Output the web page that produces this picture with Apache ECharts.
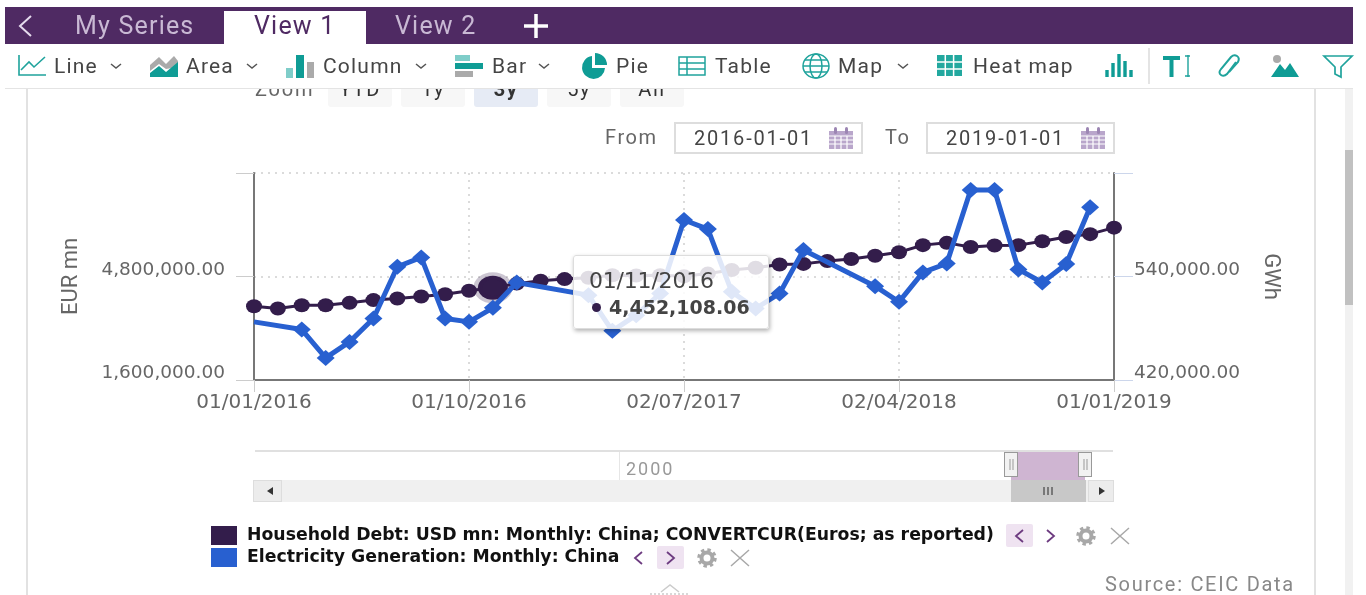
<!DOCTYPE html>
<html>
<head>
<meta charset="utf-8">
<title>My Series - View 1</title>
<script src="https://cdn.jsdelivr.net/npm/echarts@6/dist/echarts.min.js"></script>
<style>
html,body{margin:0;padding:0;width:1366px;height:595px;overflow:hidden;background:#fff;font-family:Roboto,sans-serif;}
#chart{position:absolute;left:0;top:0;width:1366px;height:595px;}
.t{position:absolute;white-space:nowrap;line-height:1;}
.b{position:absolute;box-sizing:border-box;}
svg{position:absolute;overflow:visible;}
.tool{font-size:21px;color:#454545;top:56px;letter-spacing:1.2px;}
.tab{font-size:25px;top:13px;letter-spacing:1.2px;color:#c9b9d4;}
.zbtn{top:72px;height:35px;width:64px;border-radius:3px;background:#f7f7f7;}
.ztxt{top:79px;font-size:20px;color:#333;text-align:center;width:64px;letter-spacing:1.5px;}
.inp{top:122px;height:32px;width:189px;border:2px solid #ddd;}
.lab{font-size:20px;color:#666;top:127px;letter-spacing:1.6px;}
.date{font-size:20px;color:#444;top:128px;letter-spacing:1.8px;}
</style>
</head>
<body>
<div id="chart"></div>

<!-- panel frame and scrollbar -->
<div class="b" style="left:26px;top:88px;width:2px;height:507px;background:#e2e2e2"></div>
<div class="b" style="left:1314px;top:88px;width:2px;height:507px;background:#e2e2e2"></div>
<div class="b" style="left:1345px;top:88px;width:8px;height:507px;background:#f1f1f1"></div>
<div class="b" style="left:1345px;top:150px;width:8px;height:155px;background:#c1c1c1"></div>

<!-- date range row -->
<div class="b zbtn" style="left:328px"></div><div class="b zbtn" style="left:401px"></div>
<div class="b zbtn" style="left:474px;background:#e6ebf5"></div><div class="b zbtn" style="left:547px"></div>
<div class="b zbtn" style="left:620px"></div>
<span class="t" style="left:255px;top:79px;font-size:20px;color:#666;letter-spacing:1.8px">Zoom</span>
<span class="t ztxt" style="left:328px">YTD</span><span class="t ztxt" style="left:401px">1y</span>
<span class="t ztxt" style="left:474px;font-weight:700">3y</span><span class="t ztxt" style="left:547px">5y</span>
<span class="t ztxt" style="left:620px">All</span>

<span class="t lab" style="left:605px">From</span>
<div class="b inp" style="left:674px"></div>
<span class="t date" style="left:694px">2016-01-01</span>
<svg style="left:828px;top:127px" width="26" height="23" viewBox="0 0 26 23"><rect x="1" y="4" width="24" height="18" fill="#b9a6cb"/><path d="M1 9H25M1 13H25M1 17H25M7 9V22M13 9V22M19 9V22" stroke="#fff" stroke-width="1.2"/><rect x="6" y="0" width="3" height="7" rx="1.5" fill="#9c86b3"/><rect x="17" y="0" width="3" height="7" rx="1.5" fill="#9c86b3"/></svg>
<span class="t lab" style="left:885px">To</span>
<div class="b inp" style="left:926px"></div>
<span class="t date" style="left:946px">2019-01-01</span>
<svg style="left:1080px;top:127px" width="26" height="23" viewBox="0 0 26 23"><rect x="1" y="4" width="24" height="18" fill="#b9a6cb"/><path d="M1 9H25M1 13H25M1 17H25M7 9V22M13 9V22M19 9V22" stroke="#fff" stroke-width="1.2"/><rect x="6" y="0" width="3" height="7" rx="1.5" fill="#9c86b3"/><rect x="17" y="0" width="3" height="7" rx="1.5" fill="#9c86b3"/></svg>

<!-- toolbar -->
<div class="b" style="left:5px;top:44px;width:1348px;height:45px;background:#fff;border-bottom:1px solid #e4e4e4"></div>
<div class="b" style="left:5px;top:7px;width:1348px;height:37px;background:#4f2a63"></div>
<div class="b" style="left:224px;top:11px;width:142px;height:33px;background:#fff"></div>
<svg style="left:17px;top:14px" width="16" height="24"><path d="M14 2L3 12L14 22" fill="none" stroke="#e6dcee" stroke-width="2"/></svg>
<span class="t tab" style="left:75px">My Series</span>
<span class="t tab" style="left:254px;color:#4f2a63">View 1</span>
<span class="t tab" style="left:395px">View 2</span>
<svg style="left:522px;top:12px" width="28" height="28"><path d="M14 2V26M2 14H26" stroke="#fff" stroke-width="3.5"/></svg>

<svg style="left:18px;top:55px" width="28" height="22"><path d="M1 0V20H28" fill="none" stroke="#1fa39c" stroke-width="1.6"/><path d="M3 15L11 7L16 12L27 2" fill="none" stroke="#1fa39c" stroke-width="1.6"/></svg>
<span class="t tool" style="left:54px">Line</span>
<svg style="left:150px;top:55px" width="28" height="22"><path d="M0 10L9 2L16 9L24 1L28 6V12L16 14L9 9L0 16Z" fill="#aaa"/><path d="M0 22V18L9 11L16 17L28 7V22Z" fill="#0f9c95"/></svg>
<span class="t tool" style="left:186px">Area</span>
<svg style="left:286px;top:54px" width="28" height="24"><rect x="0" y="14" width="7" height="10" fill="#7fcdc9"/><rect x="10" y="1" width="8" height="23" fill="#0f9c95"/><rect x="21" y="8" width="7" height="16" fill="#aaa"/></svg>
<span class="t tool" style="left:323px">Column</span>
<svg style="left:455px;top:55px" width="28" height="22"><rect x="0" y="0" width="15" height="6" fill="#7fcdc9"/><rect x="0" y="8" width="28" height="6" fill="#0f9c95"/><rect x="0" y="16" width="18" height="6" fill="#aaa"/></svg>
<span class="t tool" style="left:492px">Bar</span>
<svg style="left:579px;top:53px" width="30" height="26"><path d="M13 3A11.5 11.5 0 1 0 26 15H13Z" fill="#0f9c95"/><path d="M16 0A12 12 0 0 1 28 12H16Z" fill="#0f9c95"/></svg>
<span class="t tool" style="left:616px">Pie</span>
<svg style="left:678px;top:56px" width="28" height="20"><rect x="1" y="1" width="26" height="18" fill="none" stroke="#1fa39c" stroke-width="1.5"/><path d="M1 7H27M1 13H27M9 1V19" stroke="#1fa39c" stroke-width="1.5"/></svg>
<span class="t tool" style="left:715px">Table</span>
<svg style="left:802px;top:53px" width="28" height="26"><ellipse cx="14" cy="13" rx="13" ry="12" fill="none" stroke="#1fa39c" stroke-width="1.5"/><ellipse cx="14" cy="13" rx="6" ry="12" fill="none" stroke="#1fa39c" stroke-width="1.5"/><path d="M1 13H27M3 7H25M3 19H25" stroke="#1fa39c" stroke-width="1.3"/></svg>
<span class="t tool" style="left:838px">Map</span>
<svg style="left:937px;top:55px" width="25" height="21"><rect x="0" y="0" width="25" height="21" fill="#22a89f"/><path d="M8.3 0V21M16.6 0V21M0 7H25M0 14H25" stroke="#fff" stroke-width="1.5"/></svg>
<span class="t tool" style="left:973px">Heat map</span>
<svg style="left:1105px;top:53px" width="28" height="24"><path d="M2 24V17M8 24V10M14 24V1M20 24V8M26 24V17" stroke="#0f9c95" stroke-width="3.4"/></svg>
<div class="b" style="left:1148px;top:48px;width:2px;height:36px;background:#e4e4e4"></div>
<svg style="left:1162px;top:55px" width="28" height="22"><path d="M1 3H18M9.5 3V22" stroke="#0f9c95" stroke-width="4"/><path d="M26 0V22M23 1H28M23 21H28" stroke="#1fa39c" stroke-width="1.4"/></svg>
<svg style="left:1218px;top:54px" width="24" height="24"><path d="M18 8L9 20Q6 23 3 21T3 15L13 3Q16 0 19 2T20 8L11 18" fill="none" stroke="#1fa39c" stroke-width="2"/></svg>
<svg style="left:1271px;top:55px" width="28" height="22"><circle cx="6" cy="4" r="4" fill="#aaa"/><path d="M0 22L9 9L14 15L19 8L28 22Z" fill="#0f9c95"/></svg>
<svg style="left:1323px;top:54px" width="30" height="24"><path d="M1 2H29L18 13V23L12 20V13Z" fill="none" stroke="#1fa39c" stroke-width="1.7"/></svg>
<svg style="left:110px;top:63px" width="12" height="7"><path d="M1 1L6 5L11 1" fill="none" stroke="#555" stroke-width="1.5"/></svg>
<svg style="left:246px;top:63px" width="12" height="7"><path d="M1 1L6 5L11 1" fill="none" stroke="#555" stroke-width="1.5"/></svg>
<svg style="left:415px;top:63px" width="12" height="7"><path d="M1 1L6 5L11 1" fill="none" stroke="#555" stroke-width="1.5"/></svg>
<svg style="left:538px;top:63px" width="12" height="7"><path d="M1 1L6 5L11 1" fill="none" stroke="#555" stroke-width="1.5"/></svg>
<svg style="left:897px;top:63px" width="12" height="7"><path d="M1 1L6 5L11 1" fill="none" stroke="#555" stroke-width="1.5"/></svg>

<!-- navigator under the plot -->
<div class="b" style="left:255px;top:450px;width:858px;height:2px;background:#e0e0e0"></div>
<div class="b" style="left:619px;top:452px;width:1px;height:28px;background:#e6e6e6"></div>
<span class="t" style="left:626px;top:460px;font-size:18px;color:#999;letter-spacing:2px">2000</span>
<div class="b" style="left:1011px;top:452px;width:74px;height:28px;background:#cfb5d2"></div>
<div class="b" style="left:1004px;top:452px;width:14px;height:25px;background:#f2f2f2;border:1px solid #999"></div>
<div class="b" style="left:1078px;top:452px;width:14px;height:25px;background:#f2f2f2;border:1px solid #999"></div>
<svg style="left:1004px;top:452px" width="90" height="25"><path d="M6 7V18M9 7V18M80 7V18M83 7V18" stroke="#999"/></svg>
<div class="b" style="left:253px;top:480px;width:861px;height:22px;background:#f0f0f0"></div>
<div class="b" style="left:253px;top:480px;width:29px;height:22px;background:#ececec;border:1px solid #ddd"></div>
<div class="b" style="left:1088px;top:480px;width:26px;height:22px;background:#ececec;border:1px solid #ddd"></div>
<div class="b" style="left:1011px;top:480px;width:75px;height:22px;background:#c8c8c8"></div>
<svg style="left:253px;top:480px" width="861" height="22"><path d="M20 7L14 11L20 15Z M846 7L852 11L846 15Z" fill="#333"/><path d="M791 7V15M795 7V15M799 7V15" stroke="#444" stroke-width="1.2"/></svg>

<!-- legend controls, the legend itself is drawn by the chart -->
<div class="b" style="left:1006px;top:524px;width:27px;height:23px;background:#efe3f1;border-radius:2px"></div>
<div class="b" style="left:657px;top:546px;width:27px;height:23px;background:#efe3f1;border-radius:2px"></div>
<svg style="left:0;top:0" width="1366" height="595">
  <g fill="none" stroke="#6d3b80" stroke-width="1.8">
    <path d="M1023 530L1016 536L1023 542M1047 530L1054 536L1047 542M642 552L635 558L642 564M667 552L674 558L667 564"/>
  </g>
  <g fill="none" stroke="#a8a8a8" stroke-width="1.5">
    <path d="M1111 528L1129 544M1129 528L1111 544M731 550L749 566M749 550L731 566"/>
  </g>
  <g fill="none" stroke="#a8a8a8">
    <circle cx="1086" cy="536" r="5.5" stroke-width="4"/>
    <circle cx="1086" cy="536" r="8" stroke-width="3.5" stroke-dasharray="3.3 3"/>
    <circle cx="707" cy="558" r="5.5" stroke-width="4"/>
    <circle cx="707" cy="558" r="8" stroke-width="3.5" stroke-dasharray="3.3 3"/>
  </g>
  <path d="M661 592L670 585L679 592" fill="none" stroke="#ccc" stroke-width="1.5"/>
  <path d="M650 594H690" stroke="#ccc" stroke-width="1.5" stroke-dasharray="2 2"/>
</svg>
<span class="t" style="left:1105px;top:574px;font-size:20px;color:#888;letter-spacing:1.7px">Source: CEIC Data</span>

<script>
// monthly categories
var months = [
  '01/01/2016','01/02/2016','01/03/2016','01/04/2016','01/05/2016','01/06/2016','01/07/2016','01/08/2016','01/09/2016',
  '01/10/2016','01/11/2016','01/12/2016','01/01/2017','01/02/2017','01/03/2017','01/04/2017','01/05/2017','01/06/2017',
  '02/07/2017','01/08/2017','01/09/2017','01/10/2017','01/11/2017','01/12/2017','01/01/2018','01/02/2018','01/03/2018',
  '02/04/2018','01/05/2018','01/06/2018','01/07/2018','01/08/2018','01/09/2018','01/10/2018','01/11/2018','01/12/2018',
  '01/01/2019'
];
var debtName = 'Household Debt: USD mn: Monthly: China; CONVERTCUR(Euros; as reported)';
var powerName = 'Electricity Generation: Monthly: China';
var debtValues = [
  3880000,3810000,3910000,3910000,3985000,4070000,4120000,4180000,4250000,
  4360000,4452108.06,4580000,4670000,4720000,4760000,4840000,4830000,4840000,
  4810000,4890000,5000000,5070000,5170000,5190000,5280000,5340000,5440000,
  5550000,5770000,5840000,5710000,5760000,5770000,5890000,6020000,6110000,
  6310000
];
// gaps are the months the source does not report
var powerValues = [
  487400,null,478500,445600,464200,491300,551300,562100,491300,
  487400,503700,533100,null,null,518400,477000,495200,520300,
  605500,595000,522200,502900,520300,570600,null,null,528800,
  510600,544700,555100,640300,640300,548200,533100,554400,620200,
  null
];
var leftTicks = [1600000, 4800000, 8000000];
var leftLabels = [1600000, 4800000];
var rightTicks = [420000, 540000, 660000];
var rightLabels = [420000, 540000];
var activeIndex = 10;

var axisFont = 'DejaVu Sans';
var gridDots = { type: [2, 5], color: '#cfcfcf', width: 1.5 };
var fmt = function (v) {
  return v.toLocaleString('en-US', { minimumFractionDigits: 2, maximumFractionDigits: 2 });
};

var chart = echarts.init(document.getElementById('chart'));
chart.setOption({
  animation: false,
  backgroundColor: '#fff',
  grid: { left: 254, right: 252, top: 173, bottom: 215 },
  tooltip: {
    trigger: 'item',
    triggerOn: 'none',
    alwaysShowContent: true,
    transitionDuration: 0,
    position: [573, 255],
    padding: 0,
    backgroundColor: 'rgba(255,255,255,0.85)',
    borderColor: '#ddd',
    borderWidth: 1,
    extraCssText: 'box-shadow:1px 2px 4px rgba(0,0,0,.3);border-radius:3px;',
    formatter: function (p) {
      return '<div style="width:194px;height:72px;position:relative;font-family:DejaVu Sans;color:#444">'
        + '<div style="position:absolute;left:15px;top:13px;font-size:22px;line-height:24px;letter-spacing:-.2px">' + p.name + '</div>'
        + '<div style="position:absolute;left:18px;top:47px;width:9px;height:9px;border-radius:50%;background:#331d4b"></div>'
        + '<div style="position:absolute;left:35px;top:39px;font-size:19px;line-height:24px;font-weight:700">' + fmt(p.value) + '</div>'
        + '</div>';
    }
  },
  legend: {
    left: 211,
    top: 526,
    orient: 'vertical',
    selectedMode: false,
    icon: 'rect',
    itemWidth: 26,
    itemHeight: 19,
    itemGap: 3,
    padding: 0,
    textStyle: { fontFamily: 'DejaVu Sans', fontWeight: 700, fontSize: 17.3, color: '#111', padding: [0, 0, 0, 5] },
    data: [debtName, powerName]
  },
  xAxis: {
    type: 'category',
    boundaryGap: false,
    data: months,
    axisLine: { lineStyle: { color: '#777', width: 2 } },
    axisTick: { interval: 8, length: 12, lineStyle: { color: '#ccc' } },
    axisLabel: { interval: 8, margin: 13, fontFamily: axisFont, fontSize: 20, color: '#666', showMaxLabel: true, hideOverlap: false },
    splitLine: { show: true, interval: 8, lineStyle: gridDots }
  },
  yAxis: [
    {
      type: 'value',
      min: 1600000,
      max: 8000000,
      name: 'EUR mn',
      nameLocation: 'middle',
      nameRotate: 90,
      nameGap: 172,
      nameTextStyle: { fontFamily: 'Roboto', fontSize: 22, color: '#666' },
      axisLine: { show: true, lineStyle: { color: '#777', width: 2 } },
      axisTick: { show: true, length: 18, customValues: leftTicks, lineStyle: { color: '#ccc' } },
      axisLabel: { customValues: leftLabels, formatter: fmt, margin: 29, verticalAlign: 'bottom', padding: [0, 0, -3, 0], fontFamily: axisFont, fontSize: 18.5, color: '#666' },
      splitLine: { show: true, lineStyle: gridDots }
    },
    {
      type: 'value',
      min: 420000,
      max: 660000,
      name: 'GWh',
      nameLocation: 'middle',
      nameRotate: -90,
      nameGap: 145,
      nameTextStyle: { fontFamily: 'Roboto', fontSize: 22, color: '#666' },
      axisLine: { show: true, lineStyle: { color: '#777', width: 2 } },
      axisTick: { show: true, length: 19, customValues: rightTicks, lineStyle: { color: '#ccd6eb' } },
      axisLabel: { customValues: rightLabels, formatter: fmt, margin: 20, verticalAlign: 'bottom', padding: [0, 0, -3, 0], fontFamily: axisFont, fontSize: 18.5, color: '#666' },
      splitLine: { show: false }
    }
  ],
  series: [
    {
      name: debtName,
      type: 'line',
      yAxisIndex: 0,
      z: 2,
      symbol: 'circle',
      symbolSize: [16, 14],
      showAllSymbol: true,
      lineStyle: { color: '#331d4b', width: 3 },
      itemStyle: { color: '#331d4b' },
      data: debtValues.map(function (v, i) {
        // hovered point carries the grey halo
        if (i === activeIndex) {
          return { value: v, symbolSize: [30, 24], itemStyle: { color: '#331d4b', borderColor: 'rgba(51,29,75,0.25)', borderWidth: 8 } };
        }
        return v;
      })
    },
    {
      name: powerName,
      type: 'line',
      yAxisIndex: 1,
      z: 3,
      connectNulls: true,
      symbol: 'diamond',
      symbolSize: [18, 16],
      showAllSymbol: true,
      lineStyle: { color: '#2860d0', width: 5 },
      itemStyle: { color: '#2860d0' },
      data: powerValues.map(function (v, i) {
        return i === 0 ? { value: v, symbol: 'none' } : v;
      })
    }
  ]
});
chart.dispatchAction({ type: 'showTip', seriesIndex: 0, dataIndex: activeIndex });
</script>
</body>
</html>
